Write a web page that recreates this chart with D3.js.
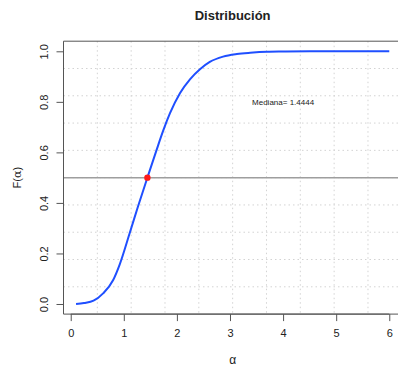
<!DOCTYPE html>
<html>
<head>
<meta charset="utf-8">
<script src="https://cdn.jsdelivr.net/npm/d3@7"></script>
<style>
  body { margin: 0; background: #fff; }
  text { font-family: "Liberation Sans", Arial, sans-serif; fill: #222; }
</style>
</head>
<body>
<div id="chart"></div>
<script>
// values
const alpha = [0.1, 0.25, 0.43, 0.61, 0.8, 0.92, 1.11, 1.27, 1.4444, 1.61, 1.74, 1.87, 2.06, 2.25, 2.44, 2.62, 2.87, 3.13, 3.38, 3.7, 4.0, 4.5, 5.0, 5.5, 6.0];
const Falpha = [0.0, 0.004, 0.013, 0.042, 0.095, 0.155, 0.28, 0.388, 0.5, 0.605, 0.685, 0.755, 0.835, 0.89, 0.93, 0.958, 0.979, 0.989, 0.994, 0.998, 0.999, 1.0, 1.0, 1.0, 1.0];
const xTicks = [0, 1, 2, 3, 4, 5, 6];
const yTicks = [0.0, 0.2, 0.4, 0.6, 0.8, 1.0];
const median = 1.4444;
const medianLevel = 0.5;
const label = 'Mediana= 1.4444';

const W = 398, H = 366;
const pLeft = 63.5, pRight = 401.8, pTop = 41.2, pBottom = 314.1;

const svg = d3.select('#chart').append('svg')
  .attr('width', W)
  .attr('height', H);

// R style usr extent (4% padding)
const x = d3.scaleLinear().domain([-0.136, 6.236]).range([pLeft, pRight]);
const y = d3.scaleLinear().domain([-0.04, 1.04]).range([pBottom, pTop]);

// grid(10, 10) over the plot region
const gx = d3.range(1, 10).map(i => x.domain()[0] + i * (x.domain()[1] - x.domain()[0]) / 10);
const gy = d3.range(1, 10).map(i => y.domain()[0] + i * (y.domain()[1] - y.domain()[0]) / 10);
const grid = svg.append('g').attr('stroke', '#d3d3d3').attr('stroke-width', 1).attr('stroke-dasharray', '1.5,3');
grid.selectAll('.gx').data(gx).enter().append('line')
  .attr('x1', d => x(d)).attr('x2', d => x(d))
  .attr('y1', pTop).attr('y2', pBottom);
grid.selectAll('.gy').data(gy).enter().append('line')
  .attr('x1', pLeft).attr('x2', pRight)
  .attr('y1', d => y(d)).attr('y2', d => y(d));

// horizontal line at 0.5
svg.append('line')
  .attr('x1', pLeft).attr('x2', pRight)
  .attr('y1', y(medianLevel)).attr('y2', y(medianLevel))
  .attr('stroke', '#9e9e9e').attr('stroke-width', 1.5);

// box (left, top, bottom)
svg.append('path')
  .attr('d', `M${pRight},${pTop}H${pLeft}V${pBottom}H${pRight}`)
  .attr('fill', 'none').attr('stroke', '#555').attr('stroke-width', 1);

// axes
const xAxis = svg.append('g')
  .attr('transform', `translate(0,${pBottom})`)
  .call(d3.axisBottom(x).tickValues(xTicks).tickSize(7).tickPadding(8).tickFormat(d3.format('d')));
const yAxis = svg.append('g')
  .attr('transform', `translate(${pLeft},0)`)
  .call(d3.axisLeft(y).tickValues(yTicks).tickSize(7).tickFormat(d3.format('.1f')));
[xAxis, yAxis].forEach(a => {
  a.select('.domain').attr('stroke', '#555');
  a.selectAll('.tick line').attr('stroke', '#555');
  a.selectAll('.tick text').attr('font-size', 11).attr('fill', '#222')
    .attr('font-family', '"Liberation Sans", Arial, sans-serif');
});
yAxis.select('.domain').attr('d', `M0,${y(0)}V${y(1)}`);
xAxis.select('.domain').attr('d', `M${x(0)},0H${x(6)}`);
yAxis.selectAll('.tick text')
  .attr('x', 0).attr('dy', 0).attr('text-anchor', 'middle')
  .attr('transform', 'translate(-16,0) rotate(-90)');

// curve
const line = d3.line()
  .x((d, i) => x(alpha[i]))
  .y(d => y(d))
  .curve(d3.curveMonotoneX);
svg.append('path')
  .datum(Falpha)
  .attr('d', line)
  .attr('fill', 'none')
  .attr('stroke', '#1f4fff')
  .attr('stroke-width', 2);

// median point
svg.append('circle')
  .attr('cx', x(median)).attr('cy', y(medianLevel))
  .attr('r', 3.2).attr('fill', '#ff1a1a');

// annotation
svg.append('text')
  .attr('x', x(4)).attr('y', y(0.8))
  .attr('dy', '0.35em')
  .attr('text-anchor', 'middle')
  .attr('font-size', 8)
  .attr('fill', '#333')
  .text(label);

// title
svg.append('text')
  .attr('x', (pLeft + pRight) / 2).attr('y', 20)
  .attr('text-anchor', 'middle')
  .attr('font-size', 13).attr('font-weight', 'bold')
  .attr('fill', '#111')
  .text('Distribución');

// x label
svg.append('text')
  .attr('x', (pLeft + pRight) / 2).attr('y', 364)
  .attr('text-anchor', 'middle')
  .attr('font-size', 12)
  .attr('font-family', '"DejaVu Serif", "Liberation Serif", serif')
  .text('α');

// y label
const yl = svg.append('text')
  .attr('transform', `translate(21,${(pTop + pBottom) / 2}) rotate(-90)`)
  .attr('text-anchor', 'middle')
  .attr('font-size', 11);
yl.append('tspan').text('F(');
yl.append('tspan').attr('font-family', '"DejaVu Serif", "Liberation Serif", serif').text('α');
yl.append('tspan').text(')');
</script>
</body>
</html>
